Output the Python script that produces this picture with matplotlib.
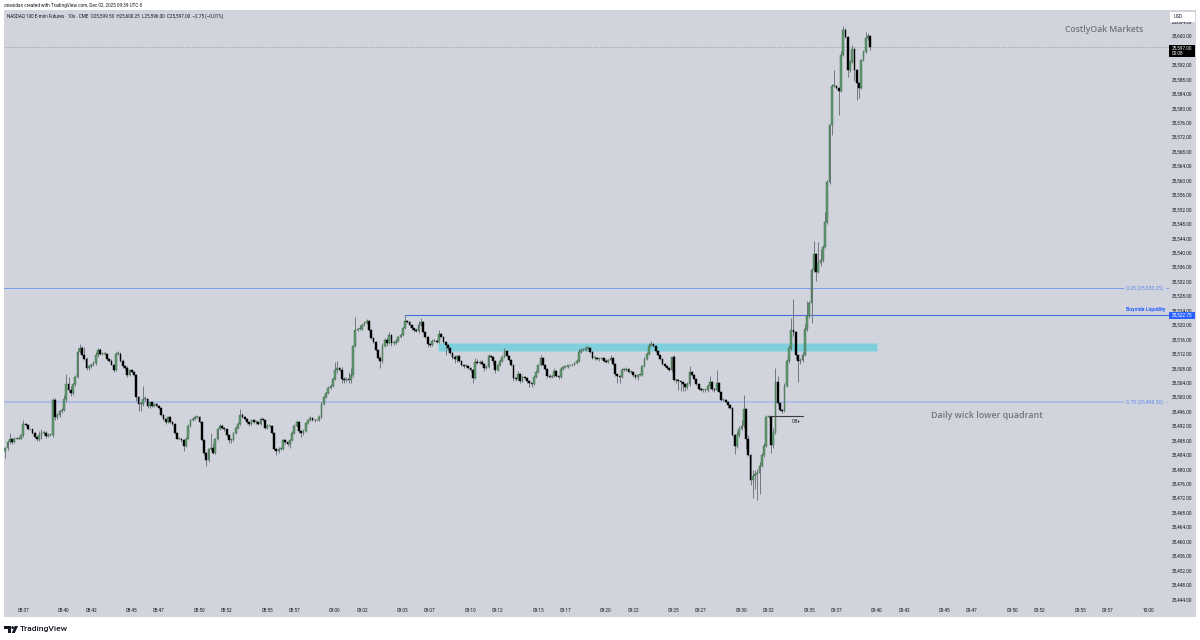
"""NQ 10s candle chart, redrawn from a TradingView snapshot"""
import matplotlib
matplotlib.use("Agg")
import matplotlib.pyplot as plt
from matplotlib.patches import Rectangle, Polygon, Circle

# prices are stored as offsets from this level
PRICE_BASE = 25400

closes = [
    85.75, 87.5, 88.5, 87.5, 88.5, 88.5, 88.5, 89.5, 92.5, 92.25, 91, 91, 90, 89, 88.25, 89.5, 90, 90, 89.25, 89.5,
    89.5, 99.25, 94.5, 95, 96, 96.5, 99.5, 103.5, 102, 101, 103.5, 105.5, 112.5, 113.5, 111.5, 110.5, 108, 108.5, 109, 109.5,
    111.5, 113, 112, 112, 112, 110.5, 110, 109, 107.5, 112, 112, 110, 108.5, 108, 106, 107.5, 107, 106, 100, 98,
    98, 99.5, 99.5, 97.5, 98.5, 97.5, 98, 97.5, 97, 95, 94, 93, 94.5, 93, 92.5, 90, 88.5, 88.5, 88, 86.5,
    88.5, 92, 93.5, 94, 94.5, 94.5, 93, 88, 84.5, 82.5, 85.5, 86, 84.5, 88.5, 91, 92, 91.5, 91, 89.5, 88,
    88, 90, 91.5, 92.5, 95, 94.5, 94, 93, 92.5, 93.5, 93, 93, 92.5, 94, 93.5, 91.5, 92, 92, 90, 85.5,
    85, 85.5, 85.5, 88, 87.5, 87, 88, 90, 92, 93, 90.5, 90, 90.5, 92.75, 93.5, 94.25, 93.75, 93.5, 93.5, 94.5,
    98, 100, 101, 102.5, 103, 105, 107.5, 108, 107.5, 105, 104.75, 105, 104.75, 106, 114, 118.5, 118.75, 118.75, 120, 120.5,
    121, 118.5, 116.25, 115.25, 113, 110.75, 110, 114, 115.75, 115, 117.25, 115, 115, 115.5, 116.5, 117.25, 119, 121, 120.75, 120,
    119, 118.5, 118.25, 120, 120.75, 118, 116.75, 114.75, 114.5, 115.5, 115.5, 115.25, 117.5, 116.75, 115.25, 114.5, 113.5, 112.25, 111, 110.5,
    111.25, 110, 108.75, 108.5, 108.5, 108, 107.5, 105.25, 109.75, 109.5, 109.75, 109.25, 108, 108.25, 111.25, 111, 110, 107.5, 108.75, 110,
    111, 112.75, 111.25, 110.25, 108.75, 105.25, 105, 106.5, 104.5, 105.5, 105.25, 104.5, 104, 103.5, 105.5, 107, 108.75, 110.75, 109, 107.75,
    105.75, 105.5, 105.75, 107.25, 105.75, 105.5, 107.75, 108.25, 108.25, 108.75, 108.75, 109, 109.5, 110, 112.5, 113, 113, 113.5, 113.5, 112.5,
    110.75, 110.75, 110.5, 110.5, 110.75, 110, 109.75, 110.25, 110.75, 109.25, 106.25, 105.75, 105.5, 107.5, 107.5, 107.75, 107, 107, 106, 105.5,
    106, 106, 108.5, 110.5, 112, 114.25, 114.75, 114, 112.75, 111.5, 110.5, 109.25, 108.5, 108, 107.5, 111, 104.75, 104.75, 104.5, 104.25,
    103.5, 102.75, 103.5, 107, 106, 105, 103.5, 102.25, 102, 102, 102, 103, 104.25, 102.25, 102, 104, 101.5, 99.25, 99.25, 98.75,
    97.75, 97, 89.5, 86.5, 89.5, 91.25, 92, 96.75, 88.5, 84, 77, 78.25, 78.75, 79, 81, 84, 86.5, 94.5, 94.5, 86.75,
    90, 104.25, 98.25, 96.5, 96, 103, 110, 113.5, 118.5, 118, 111.5, 110, 110.25, 111.5, 118.75, 122.5, 126, 135.25, 139.5, 134.75,
    137.25, 138, 141.5, 148.5, 159.5, 175.25, 186.25, 186.25, 185.5, 184.75, 194.75, 201.75, 199.75, 190.5, 192.75, 196.5, 190.5, 187, 185.5, 193.25,
    195.5, 199.5, 200, 197,
]

upper_wicks = [
    .5, .5, 1.5, .25, .5, .5, .5, .25, 1, .25, .25, .25, .25, .25, .25, 1, 1, .5, .5, .5,
    .25, .5, .5, .5, .5, .5, 1, 3, 2, 1, .5, .5, 1, 1.25, .5, 2.25, .5, .5, .5, .5,
    1, .5, .5, .25, .5, .25, .25, .5, .25, .5, .75, .5, .5, .5, .5, .25, .25, .25, .25, .25,
    .5, 3.5, .75, .25, .25, .25, .25, .25, .25, .25, .25, .25, .25, .25, .25, .25, .25, .25, .25, .25,
    .5, .5, .5, .5, .25, .25, .25, .25, .25, .25, .5, 4, 1.25, .25, .5, .5, .5, .25, .25, .25,
    .25, .25, .5, .5, 1.75, .5, .25, .25, .25, .5, .5, .25, .25, .5, .25, .25, .5, .25, .25, .25,
    .25, .75, .25, .5, .5, .25, .5, .5, .5, .75, .25, .25, .5, .25, .25, .5, .25, .25, .25, .5,
    .5, .5, .5, .5, .5, .5, 2.25, 2, .25, .75, .5, .5, 2, 2, .5, 3.75, .5, 1.25, .5, .5,
    .5, .25, .25, .25, .25, .25, .5, 1, .5, .5, .75, .25, .25, .5, .5, .5, .5, 1.75, .25, .25,
    .25, .25, .5, 1, 1.25, .25, .25, .25, .25, .5, .5, .5, 1, .25, .25, .25, .25, .25, .25, .5,
    .5, .25, .25, .25, .25, .25, .25, .25, 1, .75, .5, .5, .25, .5, .75, .5, .25, .25, .5, .5,
    .5, .75, .25, .25, .25, .25, .25, .75, .25, .5, .25, .25, .25, .25, .5, .5, .5, .75, .25, .25,
    .25, .5, .25, .75, .25, .25, .5, .25, .25, .25, .25, .25, .25, .5, .75, .5, .5, .75, .25, .25,
    .25, .5, .25, .25, .25, .25, .5, .25, .75, .25, .25, .25, .25, .5, .5, .5, .25, .25, .25, .25,
    .25, .5, .5, .5, .5, .75, .75, .25, .25, .25, .25, .25, .25, .25, .25, .25, .5, .25, .25, .25,
    .25, .25, .75, 1.5, .25, .25, .25, .25, .5, .25, .25, .5, 1.5, .25, .25, 3.5, .25, .25, .25, .25,
    .25, .25, .25, .25, 1, .75, 1.5, 3.75, .25, 1, .25, 1.5, 1, 1, 1, .5, .75, .5, .25, .25,
    1.5, 3.75, 1.5, .5, .25, .75, .5, 1, 3.5, 8.75, .25, .25, .5, 1, 1.5, 4, .5, .5, 3.75, .5,
    5.75, 3, .5, 2.75, .5, .5, .5, 4.25, .25, .5, 1, 1, .5, .25, .5, 1, .25, .25, .25, .5,
    .5, 1.5, .75, .25,
]

lower_wicks = [
    2, .5, .5, .5, .25, .25, .25, .25, .5, .25, .25, .25, .25, .25, .5, .5, 1, .5, .5, .25,
    .25, .5, .75, .5, .5, .5, .5, .75, .5, .75, .5, .5, .25, .25, .25, .25, .5, .5, .5, .5,
    .5, .5, .25, .25, .25, .25, .25, .25, .5, .25, .5, .25, .5, .5, .5, .25, .25, .25, 1, 2,
    2, .5, .5, .5, .5, .25, .25, .25, .25, .25, .5, .5, .25, .25, .25, .25, .25, .25, .5, 1.5,
    .25, .25, .25, .25, .25, .25, .25, .25, .5, 1.75, .5, .25, .25, .25, .5, .25, .25, .5, .5, .75,
    .75, .25, .25, .25, .25, .25, .5, .5, .5, .25, .25, .5, .25, .25, .25, .25, .25, .25, .25, .25,
    1, .5, .25, .25, .5, .5, 1, .25, .25, .25, .5, 1, .5, .25, .25, .25, .5, .5, .25, .25,
    .25, .25, .25, .25, .25, .25, .25, .75, .25, 1.25, 1, .5, 1, 1, .5, .25, .25, .25, .25, .25,
    .25, .25, .25, .25, .25, .25, 2, .5, .25, .75, .25, .75, .5, .25, .25, .25, .25, .25, .25, .5,
    .5, .5, .25, .5, .25, .25, .5, 1, .75, .25, .25, .25, .25, .25, .25, 2.75, .5, .25, .5, 1,
    .75, .25, .25, .5, .25, .25, .5, 1.5, .25, .25, .25, .25, .75, .25, .25, .25, 1.25, .75, .25, .25,
    .25, .25, .25, .25, .25, .75, .5, .25, .5, .25, .25, .5, 1.25, .75, .25, .25, .25, .25, .25, .25,
    .5, .25, .25, .25, .25, .5, .25, .25, .25, .25, .25, .25, .25, .25, .25, .25, .25, .25, .25, .25,
    .25, .5, .25, .5, .25, .25, .25, .25, .25, .25, .5, 1.75, 1.75, .25, .25, .25, .25, .25, .5, .5,
    .75, .25, .25, .25, .25, .25, .25, .25, .25, .25, .25, .25, .25, .25, .25, .5, .25, 1, 2.5, 2.5,
    1.75, 1, .5, .5, .25, .25, .25, .25, .25, .75, .5, .5, .75, .5, .75, .25, .25, .25, .25, .25,
    .75, .25, .25, 2.25, .5, .5, .5, .5, 3, .25, 1.25, 5, 3.75, 7.25, 5.75, .5, .5, .25, .25, 2.25,
    .75, .25, .5, .5, .5, .25, .25, .5, .5, 1, 1, 5.75, .75, .5, .25, .5, .5, 5.5, .5, 2.75,
    .5, 1, .5, .25, .5, .5, 2.75, .25, .25, 6.75, .25, .25, .25, 1.75, .5, .25, 3, 4.75, 2.75, .25,
    .25, .25, .5, 1,
]

first_open = 85.0
time_labels = ["08:37", "08:40", "08:42", "08:45", "08:47", "08:50", "08:52", "08:55", "08:57",
               "09:00", "09:02", "09:05", "09:07", "09:10", "09:12", "09:15", "09:17", "09:20",
               "09:22", "09:25", "09:27", "09:30", "09:32", "09:35", "09:37", "09:40", "09:42",
               "09:45", "09:47", "09:50", "09:52", "09:55", "09:57", "10:00"]
price_ticks = list(range(25444, 25608, 4))

# marked levels from the snapshot
last_price = 25597.00
quarter_high = 25530.25
quarter_low = 25498.50
buyside_level = 25522.75
zone_low, zone_high = 25512.75, 25514.9
ob_level = 25494.8

BG = "#d1d4dc"
UP = "#5f9e70"
DOWN = "#000000"
WICK = "#74787f"
TEXT = "#131722"
NOTE = "#70747e"
BLUE = "#2962ff"

fig = plt.figure(figsize=(12, 6.4), dpi=100, facecolor="white")
plt.rcParams["font.family"] = ["Roboto", "DejaVu Sans"]

ax = fig.add_axes([4 / 1200, 1 - 617 / 640, 1192 / 1200, 607 / 640], facecolor=BG)
for side in ax.spines:
    ax.spines[side].set_visible(False)

# x axis runs in minutes since midnight, one bar every 10 seconds
start_minute = 8 * 60 + 35 + 40 / 60
minutes = [start_minute + i * 10 / 60 for i in range(len(closes))]
opens = [first_open] + closes[:-1]
xmin, xmax = 515.57, 603.54
ax.set_xlim(xmin, xmax)
ax.set_ylim(25439.06, 25607.2)

for m, o, c, uw, lw_ in zip(minutes, opens, closes, upper_wicks, lower_wicks):
    top = max(o, c)
    low = min(o, c)
    ax.vlines(m, PRICE_BASE + low - lw_, PRICE_BASE + top + uw, color=WICK, lw=0.7, zorder=3)
    colour = UP if c >= o else DOWN
    edge = "#3c5f46" if c >= o else DOWN
    ax.bar(m, max(top - low, 0.25), bottom=PRICE_BASE + low, width=0.13,
           color=colour, edgecolor=edge, linewidth=0.3, zorder=4)

tick_minutes = [int(t[:2]) * 60 + int(t[3:]) for t in time_labels]
ax.set_xticks(tick_minutes)
ax.set_xticklabels(time_labels)
ax.tick_params(axis="x", length=0, pad=-6.5, labelsize=3.4, labelcolor=TEXT)

ax.yaxis.tick_right()
ax.set_yticks(price_ticks)
ax.set_yticklabels(["{:,.2f}".format(p) for p in price_ticks])
ax.tick_params(axis="y", length=0, pad=-17.5, labelsize=3.4, labelcolor=TEXT)

# levels
line_end = 601.5
label_start = 598.15
ax.axhline(last_price, color="#7f8288", lw=0.5, ls=(0, (1, 1.5)), zorder=2)
ax.plot([xmin, label_start], [quarter_high, quarter_high], color="#7a9cf0", lw=0.7, zorder=2)
ax.plot([xmin, label_start], [quarter_low, quarter_low], color="#a3b7ea", lw=1.1, zorder=2)
ax.plot([601.3, line_end], [quarter_high, quarter_high], color="#7a9cf0", lw=0.6)
ax.plot([601.3, line_end], [quarter_low, quarter_low], color="#a3b7ea", lw=0.6)
ax.plot([545.17, line_end], [buyside_level, buyside_level], color="#4a6fd8", lw=0.8, zorder=2)
ax.plot([545.17, 545.17], [buyside_level, buyside_level - 1.4], color="#4a6fd8", lw=0.6, zorder=2)

ax.add_patch(Rectangle((547.58, zone_low), 32.42, zone_high - zone_low, facecolor="#7fcfdc",
                       edgecolor="#a8d5df", linewidth=0.4, zorder=2.5))
ax.plot([572.1, 574.54], [ob_level, ob_level], color="#3a3a3a", lw=0.8, zorder=5)
ax.text(574.06, ob_level - 1.5, "OB+", fontsize=3.4, color=TEXT, ha="center", va="center")

ax.text(599.73, quarter_high, "0.25 (25,530.25)", fontsize=3.7, color="#5f87f0", ha="center", va="center")
ax.text(599.73, quarter_low, "0.75 (25,498.50)", fontsize=3.7, color="#5f87f0", ha="center", va="center")
ax.text(601.3, buyside_level + 1.4, "Buyside Liquidity", fontsize=3.7, color=BLUE, ha="right", va="center",
        fontweight="bold")

# overlay in pixel coordinates for header, price boxes and logo
over = fig.add_axes([0, 0, 1, 1], facecolor="none")
over.set_xlim(0, 1200)
over.set_ylim(640, 0)
over.axis("off")

over.text(1104, 30, "CostlyOak Markets", fontsize=6.2, color=NOTE, ha="center", va="center",
          family=["Open Sans", "DejaVu Sans"], fontweight="semibold")
over.text(987, 416, "Daily wick lower quadrant", fontsize=6.4, color=NOTE, ha="center", va="center",
          family=["Open Sans", "DejaVu Sans"], fontweight="semibold")

over.text(4, 6, "onesidan created with TradingView.com, Dec 02, 2025 09:39 UTC-5", fontsize=3.33,
          color=TEXT, ha="left", va="center")
over.text(7, 16, "NASDAQ 100 E-mini Futures · 10s · CME  O25,599.50  H25,600.25  L25,596.00  C25,597.00  −2.75 (−0.01%)",
          fontsize=3.3, color=TEXT, ha="left", va="center")

over.add_patch(Rectangle((1170, 12), 25, 9.7, facecolor="white", edgecolor="none"))
over.text(1174, 17, "USD", fontsize=3.4, color=TEXT, ha="left", va="center")
over.add_patch(Rectangle((1169, 44.7), 25.5, 12, facecolor="black", edgecolor="none"))
over.text(1172, 47.8, "25,597.00", fontsize=3.4, color="white", ha="left", va="center")
over.text(1172, 53.5, "00:08", fontsize=3.4, color="white", ha="left", va="center")
over.add_patch(Rectangle((1169, 312.4), 25.5, 6.4, facecolor=BLUE, edgecolor="none"))
over.text(1172, 315.6, "25,522.75", fontsize=3.4, color="white", ha="left", va="center")

# TradingView mark
over.add_patch(Polygon([(4, 626), (11, 626), (11, 633), (8, 633), (8, 629), (4, 629)], facecolor="#131722"))
over.add_patch(Circle((12.6, 627.6), 1.4, facecolor="#131722"))
over.add_patch(Polygon([(14.8, 626), (18, 626), (14.8, 633), (11.8, 633)], facecolor="#131722"))
over.text(19.5, 629, "TradingView", fontsize=6.1, color="#131722", ha="left", va="center", fontweight="medium")

fig.savefig("out.png", dpi=100)
